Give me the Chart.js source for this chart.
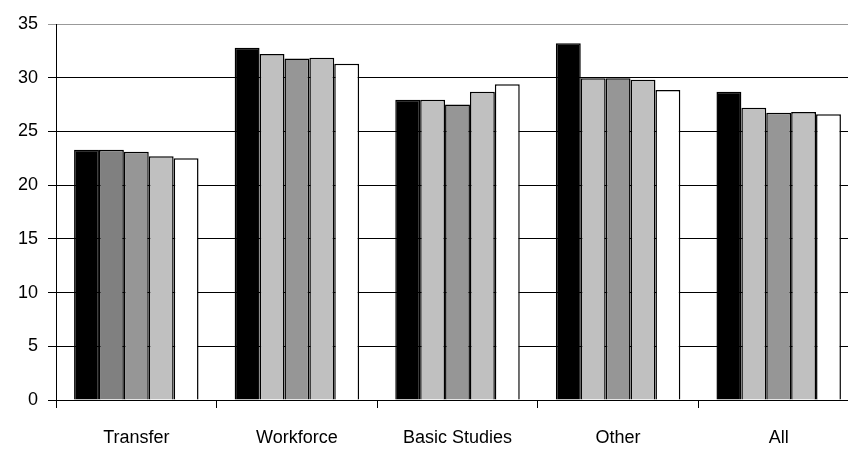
<!DOCTYPE html>
<html>
<head>
<meta charset="utf-8">
<script src="https://cdn.jsdelivr.net/npm/chart.js@4"></script>
<style>
  html, body { margin: 0; padding: 0; background: #fff; overflow: hidden; }
  #wrap { width: 862px; height: 449px; }
</style>
</head>
<body>
<div id="wrap"><canvas id="chart"></canvas></div>
<script>
const categories = ["Transfer", "Workforce", "Basic Studies", "Other", "All"];

// five series per category, left to right
const series1 = [23.3, 32.8, 27.95, 33.2, 28.7];
const series2 = [23.3, 32.2, 27.95, 29.95, 27.2];
const series3 = [23.1, 31.8, 27.5, 29.95, 26.75];
const series4 = [22.7, 31.85, 28.7, 29.8, 26.8];
const series5 = [22.5, 31.3, 29.4, 28.85, 26.6];

const yTicks = [0, 5, 10, 15, 20, 25, 30, 35];

const fills = [
  "#000000",
  ["#808080", "#c0c0c0", "#c0c0c0", "#c0c0c0", "#c0c0c0"],
  "#969696",
  "#c0c0c0",
  "#ffffff"
];

const font = { family: "'Liberation Sans Narrow', 'Arial Narrow', 'Liberation Sans', Arial, sans-serif", size: 18 };

const allSeries = [series1, series2, series3, series4, series5];

new Chart(document.getElementById("chart").getContext("2d"), {
  type: "bar",
  data: {
    labels: categories,
    datasets: allSeries.map((vals, i) => ({
      label: "Series " + (i + 1),
      data: vals,
      backgroundColor: fills[i],
      borderColor: "#000000",
      borderWidth: 1.5,
      categoryPercentage: 0.775,
      barPercentage: 1
    }))
  },
  options: {
    responsive: true,
    maintainAspectRatio: false,
    animation: false,
    layout: { padding: { top: 24, right: 3, left: 0, bottom: 0 } },
    plugins: { legend: { display: false }, tooltip: { enabled: false } },
    scales: {
      x: {
        grid: { drawOnChartArea: false, color: "#000", tickLength: 8, offset: true },
        border: { color: "#000", width: 1 },
        ticks: { color: "#000", font: font, padding: 19 },
        afterFit: (scale) => { scale.height = 49; }
      },
      y: {
        min: 0,
        max: 35,
        afterBuildTicks: (scale) => { scale.ticks = yTicks.map(v => ({ value: v })); },
        grid: {
          color: (ctx) => ctx.tick && ctx.tick.value === 35 ? "#999" : "#000",
          tickLength: 8
        },
        border: { color: "#000", width: 1 },
        ticks: { color: "#000", font: font, padding: 10 },
        afterFit: (scale) => { scale.width = 56; }
      }
    }
  }
});
</script>
</body>
</html>
